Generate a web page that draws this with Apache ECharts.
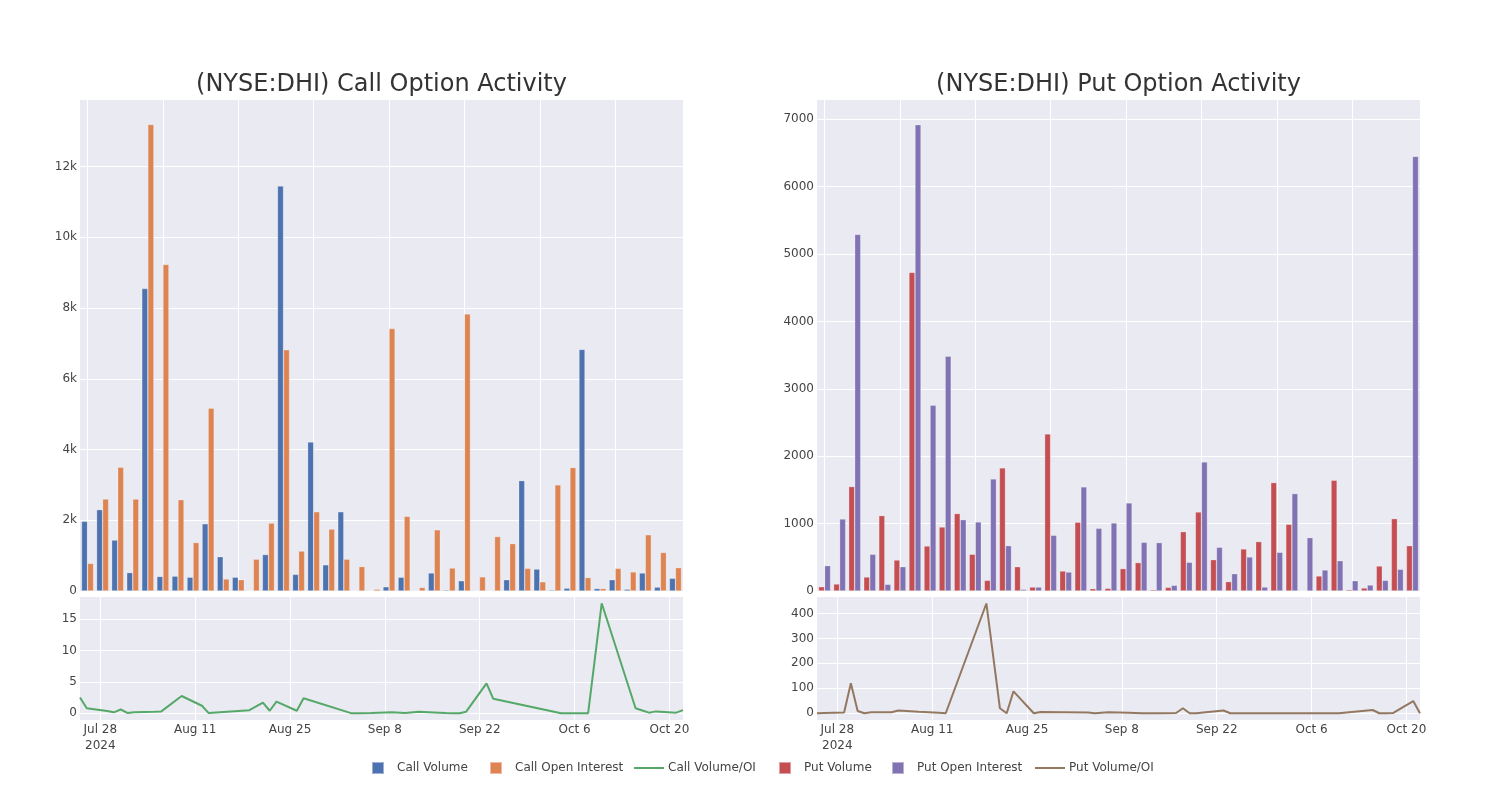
<!DOCTYPE html>
<html><head><meta charset="utf-8">
<script src="https://cdn.jsdelivr.net/npm/echarts@6/dist/echarts.min.js"></script>
<style>html,body{margin:0;padding:0;background:#fff}#c{width:1500px;height:800px}</style>
</head><body><div id="c"></div>
<script>
const dates = ['2024-07-25','2024-07-26','2024-07-29','2024-07-30','2024-07-31','2024-08-01','2024-08-02','2024-08-05','2024-08-06','2024-08-09',
  '2024-08-12','2024-08-13','2024-08-19','2024-08-21','2024-08-22','2024-08-23','2024-08-26','2024-08-27','2024-09-03','2024-09-04',
  '2024-09-06','2024-09-09','2024-09-11','2024-09-13','2024-09-16','2024-09-17','2024-09-18','2024-09-19','2024-09-20','2024-09-23',
  '2024-09-24','2024-10-04','2024-10-08','2024-10-10','2024-10-15','2024-10-16','2024-10-17','2024-10-18','2024-10-21','2024-10-22'];
const callVolume = [1970,2300,1440,520,8550,410,420,390,1900,970,390,10,1030,11450,470,4210,740,2240,10,3,
  120,390,10,510,30,290,10,3,320,3120,620,30,80,6830,70,320,50,510,110,360];
const callOI = [780,2600,3500,2600,13190,9230,2580,1370,5170,340,320,900,1920,6820,1130,2240,1750,900,690,50,
  7420,2110,100,1730,650,7830,400,1540,1340,640,260,3000,3490,380,70,640,540,1590,1090,660];
const callRatio = [2.5,0.8,0.35,0.15,0.6,0.05,0.15,0.25,0.3,2.75,1.2,0.03,0.5,1.7,0.4,1.85,0.4,2.4,0.02,0.02,
  0.05,0.15,0.05,0.25,0.1,0.05,0.02,0.02,0.25,4.75,2.3,0.02,0.02,17.5,0.8,0.45,0.1,0.3,0.1,0.5];
const putVolume = [64,104,1550,208,1119,460,4728,668,950,1149,545,158,1827,361,59,2332,297,1020,35,40,
  332,421,20,54,881,1173,465,139,624,733,1609,990,5,223,1644,20,45,371,1074,673];
const putOI = [376,1069,5292,545,99,361,6921,2757,3485,1059,1025,1663,673,25,59,827,282,1545,931,1010,
  1307,723,718,84,426,1916,649,257,505,59,574,1446,792,312,450,153,89,158,322,6450];
const putRatio = [0,1,3,120,9,0,4,4,11,6,2,0,440,20,0,88,0,5,3,0,
  4,2,0,0,1,20,0,0,3,11,0,0,0,0,13,0,0,1,49,0];
const callYTicks = [0,2000,4000,6000,8000,10000,12000];
const callRatioTicks = [0,5,10,15];
const putYTicks = [0,1000,2000,3000,4000,5000,6000,7000];
const putRatioTicks = [0,100,200,300,400];
const xTickDates = ['2024-07-28','2024-08-11','2024-08-25','2024-09-08','2024-09-22','2024-10-06','2024-10-20'];

const ts = d => Date.parse(d + 'T00:00:00Z');
const MONTHS = ['Jan','Feb','Mar','Apr','May','Jun','Jul','Aug','Sep','Oct','Nov','Dec'];
const FONT = "'DejaVu Sans', sans-serif";
const TXT = '#444';
const xTicks = xTickDates.map(ts);
const fmtDate = v => {
  const d = new Date(v);
  const s = MONTHS[d.getUTCMonth()] + ' ' + d.getUTCDate();
  return v === xTicks[0] ? s + '\n' + d.getUTCFullYear() : s;
};
const kfmt = v => v === 0 ? '0' : (v / 1000) + 'k';

const grids = [
  {left: 80, top: 100, width: 603, height: 491},
  {left: 80, top: 597, width: 603, height: 123},
  {left: 817, top: 100, width: 603, height: 491},
  {left: 817, top: 597, width: 603, height: 123}
].map(g => Object.assign({show: true, backgroundColor: '#eaeaf2', borderWidth: 0, containLabel: false}, g));

const splitWhite = {show: true, lineStyle: {color: '#ffffff', width: 1}};
const catAxis = gi => ({
  type: 'category', gridIndex: gi, data: dates, boundaryGap: true,
  axisLabel: {show: false}, axisTick: {show: false}, axisLine: {show: false},
  splitLine: {show: true, interval: 4, alignWithLabel: true, lineStyle: {color: '#ffffff', width: 1}}
});
const timeAxis = gi => ({
  type: 'value', gridIndex: gi, min: ts(dates[0]), max: ts(dates[dates.length - 1]),
  axisLine: {show: false},
  axisTick: {show: false, customValues: xTicks},
  axisLabel: {customValues: xTicks, formatter: fmtDate, color: TXT, fontSize: 12, fontFamily: FONT, margin: 2, lineHeight: 16},
  splitLine: splitWhite
});
const valAxis = (gi, min, max, ticks, fmt) => ({
  type: 'value', gridIndex: gi, min: min, max: max,
  axisLine: {show: false},
  axisTick: {show: false, customValues: ticks},
  axisLabel: {customValues: ticks, formatter: fmt || (v => String(v)), color: TXT, fontSize: 12, fontFamily: FONT, margin: 3},
  splitLine: splitWhite
});

const barStyle = c => ({color: c, borderColor: 'rgba(255,255,255,0.45)', borderWidth: 0.6});
const barSeries = (name, data, xi, c) => ({
  name, type: 'bar', xAxisIndex: xi, yAxisIndex: xi, data,
  barGap: '0%', barCategoryGap: '20%', itemStyle: barStyle(c)
});
const lineSeries = (name, data, xi, c) => ({
  name, type: 'line', xAxisIndex: xi, yAxisIndex: xi,
  data: dates.map((d, i) => [ts(d), data[i]]),
  symbol: 'none', showSymbol: false, lineStyle: {color: c, width: 2}, itemStyle: {color: c}
});

const legendItem = (name, left, isLine) => ({
  left, top: isLine ? 762 : 761, orient: 'horizontal', padding: 0,
  data: [{name, icon: 'rect'}],
  itemWidth: isLine ? 30 : 12, itemHeight: isLine ? 2 : 12,
  textStyle: {color: TXT, fontSize: 12, fontFamily: FONT, padding: isLine ? [0, 0, 0, -1] : [0, 0, 0, 8]}
});

const option = {
  animation: false,
  backgroundColor: '#ffffff',
  textStyle: {fontFamily: FONT},
  grid: grids,
  graphic: [
    {type: 'text', x: 381.5, y: 85, style: {text: '(NYSE:DHI) Call Option Activity', fill: '#333', font: "24px 'DejaVu Sans', sans-serif", textAlign: 'center', textVerticalAlign: 'middle'}},
    {type: 'text', x: 1118.5, y: 85, style: {text: '(NYSE:DHI) Put Option Activity', fill: '#333', font: "24px 'DejaVu Sans', sans-serif", textAlign: 'center', textVerticalAlign: 'middle'}}
  ],
  xAxis: [catAxis(0), timeAxis(1), catAxis(2), timeAxis(3)],
  yAxis: [
    valAxis(0, 0, 13880, callYTicks, kfmt),
    valAxis(1, -1.07, 18.5, callRatioTicks),
    valAxis(2, 0, 7287, putYTicks),
    valAxis(3, -27, 466, putRatioTicks)
  ],
  legend: [
    legendItem('Call Volume', 371, false),
    legendItem('Call Open Interest', 489, false),
    legendItem('Call Volume/OI', 634, true),
    legendItem('Put Volume', 778, false),
    legendItem('Put Open Interest', 891, false),
    legendItem('Put Volume/OI', 1035, true)
  ],
  series: [
    barSeries('Call Volume', callVolume, 0, '#4c72b0'),
    barSeries('Call Open Interest', callOI, 0, '#dd8452'),
    lineSeries('Call Volume/OI', callRatio, 1, '#55a868'),
    barSeries('Put Volume', putVolume, 2, '#c44e52'),
    barSeries('Put Open Interest', putOI, 2, '#8172b3'),
    lineSeries('Put Volume/OI', putRatio, 3, '#937860')
  ]
};
const chart = echarts.init(document.getElementById('c'), null, {renderer: 'canvas'});
chart.setOption(option);
</script></body></html>
